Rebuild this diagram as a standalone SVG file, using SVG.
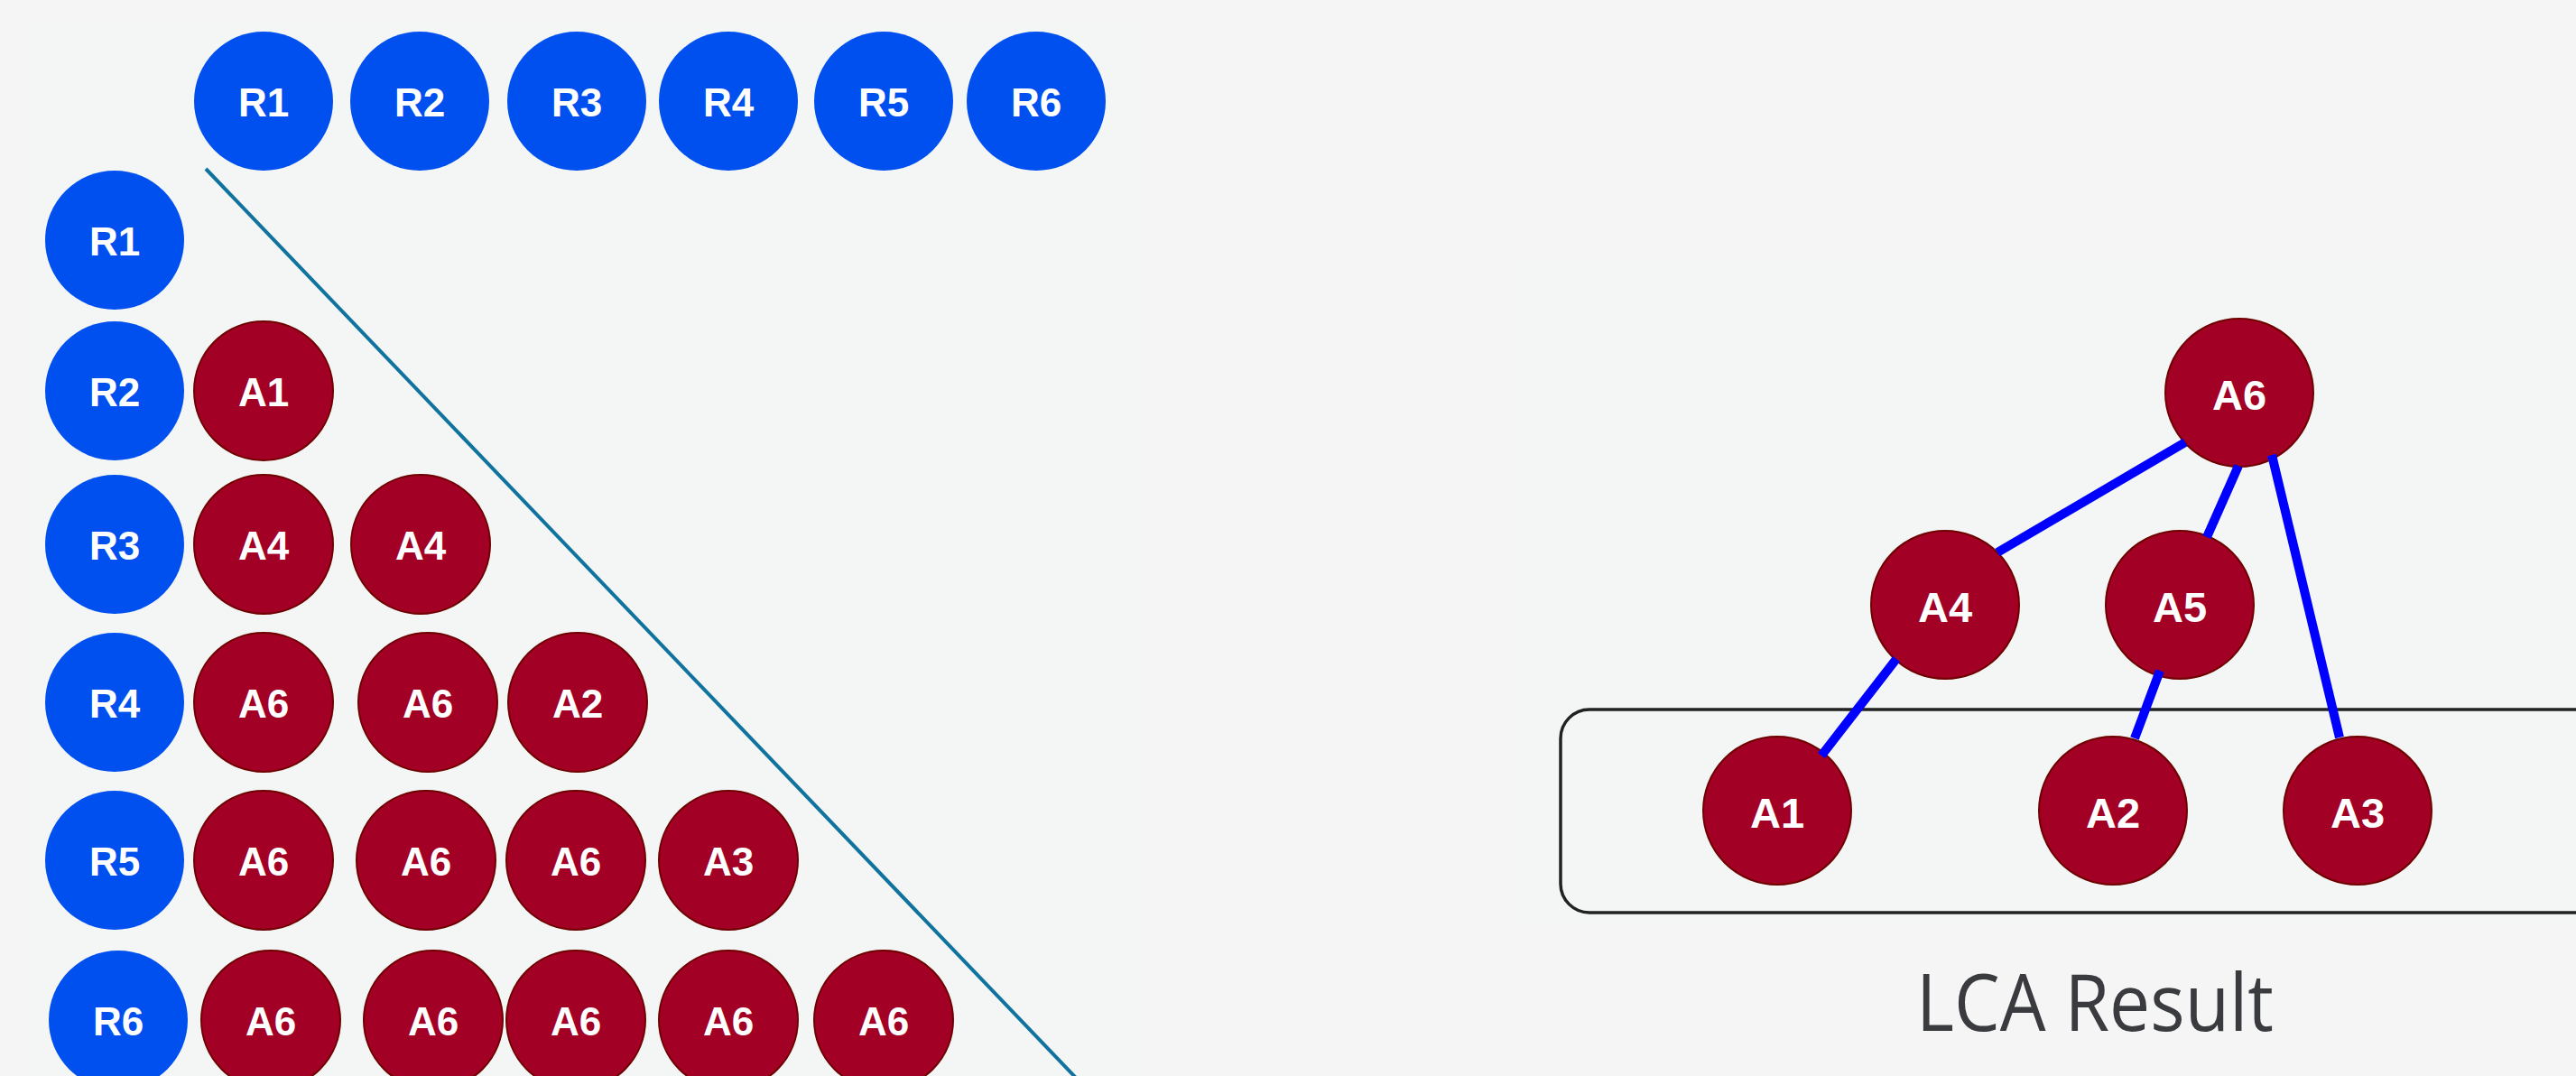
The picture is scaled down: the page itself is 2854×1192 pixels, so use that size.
<svg xmlns="http://www.w3.org/2000/svg" width="2854" height="1192" viewBox="0 0 2854 1192">
<style>
.r{fill:#0050ef;}
.a{fill:#a20025;stroke:#6f0000;stroke-width:2;}
.t{fill:#ffffff;font-family:"Liberation Sans",Arial,sans-serif;font-weight:bold;font-size:44px;text-anchor:middle;}
.t2{fill:#ffffff;font-family:"Liberation Sans",Arial,sans-serif;font-weight:bold;font-size:47px;text-anchor:middle;}
.e{stroke:#0000ff;stroke-width:10;fill:none;}
</style>
<rect x="0" y="0" width="2854" height="1192" fill="#f5f5f5"/>
<rect x="30" y="27" width="1239" height="1165" fill="#f4f6f6"/>
<rect x="1677" y="290" width="1177" height="735" fill="#f4f6f6"/>
<line id="diag" x1="228" y1="187" x2="1192" y2="1194" stroke="#10739e" stroke-width="4"/>
<g id="header">
<g id="h-R1"><circle class="r" cx="292" cy="112" r="77"/><text class="t" x="292" y="129">R1</text></g>
<g id="h-R2"><circle class="r" cx="465" cy="112" r="77"/><text class="t" x="465" y="129">R2</text></g>
<g id="h-R3"><circle class="r" cx="639" cy="112" r="77"/><text class="t" x="639" y="129">R3</text></g>
<g id="h-R4"><circle class="r" cx="807" cy="112" r="77"/><text class="t" x="807" y="129">R4</text></g>
<g id="h-R5"><circle class="r" cx="979" cy="112" r="77"/><text class="t" x="979" y="129">R5</text></g>
<g id="h-R6"><circle class="r" cx="1148" cy="112" r="77"/><text class="t" x="1148" y="129">R6</text></g>
</g>
<g id="rows">
<g id="v-R1"><circle class="r" cx="127" cy="266" r="77"/><text class="t" x="127" y="283">R1</text></g>
<g id="v-R2"><circle class="r" cx="127" cy="433" r="77"/><text class="t" x="127" y="450">R2</text></g>
<g id="c21"><circle class="a" cx="292" cy="433" r="77"/><text class="t" x="292" y="450">A1</text></g>
<g id="v-R3"><circle class="r" cx="127" cy="603" r="77"/><text class="t" x="127" y="620">R3</text></g>
<g id="c31"><circle class="a" cx="292" cy="603" r="77"/><text class="t" x="292" y="620">A4</text></g>
<g id="c32"><circle class="a" cx="466" cy="603" r="77"/><text class="t" x="466" y="620">A4</text></g>
<g id="v-R4"><circle class="r" cx="127" cy="778" r="77"/><text class="t" x="127" y="795">R4</text></g>
<g id="c41"><circle class="a" cx="292" cy="778" r="77"/><text class="t" x="292" y="795">A6</text></g>
<g id="c42"><circle class="a" cx="474" cy="778" r="77"/><text class="t" x="474" y="795">A6</text></g>
<g id="c43"><circle class="a" cx="640" cy="778" r="77"/><text class="t" x="640" y="795">A2</text></g>
<g id="v-R5"><circle class="r" cx="127" cy="953" r="77"/><text class="t" x="127" y="970">R5</text></g>
<g id="c51"><circle class="a" cx="292" cy="953" r="77"/><text class="t" x="292" y="970">A6</text></g>
<g id="c52"><circle class="a" cx="472" cy="953" r="77"/><text class="t" x="472" y="970">A6</text></g>
<g id="c53"><circle class="a" cx="638" cy="953" r="77"/><text class="t" x="638" y="970">A6</text></g>
<g id="c54"><circle class="a" cx="807" cy="953" r="77"/><text class="t" x="807" y="970">A3</text></g>
<g id="v-R6"><circle class="r" cx="131" cy="1130" r="77"/><text class="t" x="131" y="1147">R6</text></g>
<g id="c61"><circle class="a" cx="300" cy="1130" r="77"/><text class="t" x="300" y="1147">A6</text></g>
<g id="c62"><circle class="a" cx="480" cy="1130" r="77"/><text class="t" x="480" y="1147">A6</text></g>
<g id="c63"><circle class="a" cx="638" cy="1130" r="77"/><text class="t" x="638" y="1147">A6</text></g>
<g id="c64"><circle class="a" cx="807" cy="1130" r="77"/><text class="t" x="807" y="1147">A6</text></g>
<g id="c65"><circle class="a" cx="979" cy="1130" r="77"/><text class="t" x="979" y="1147">A6</text></g>
</g>
<rect id="leaf-box" x="1729" y="786" width="1200" height="225" rx="32" ry="32" fill="none" stroke="#222222" stroke-width="3.5"/>
<g id="tree">
<g id="n-A6"><circle class="a" cx="2481" cy="435" r="82"/><text class="t2" x="2481" y="454">A6</text></g>
<g id="n-A4"><circle class="a" cx="2155" cy="670" r="82"/><text class="t2" x="2155" y="689">A4</text></g>
<g id="n-A5"><circle class="a" cx="2415" cy="670" r="82"/><text class="t2" x="2415" y="689">A5</text></g>
<g id="n-A1"><circle class="a" cx="1969" cy="898" r="82"/><text class="t2" x="1969" y="917">A1</text></g>
<g id="n-A2"><circle class="a" cx="2341" cy="898" r="82"/><text class="t2" x="2341" y="917">A2</text></g>
<g id="n-A3"><circle class="a" cx="2612" cy="898" r="82"/><text class="t2" x="2612" y="917">A3</text></g>
</g>
<g id="connectors">
<line class="e" x1="2421" y1="490" x2="2213" y2="612"/>
<line class="e" x1="2480" y1="516" x2="2445" y2="595"/>
<line class="e" x1="2517" y1="504" x2="2592" y2="817"/>
<line class="e" x1="2101" y1="730" x2="2018" y2="837"/>
<line class="e" x1="2393" y1="743" x2="2365" y2="818"/>
</g>
<text id="caption" x="2123" y="1142" font-family="'Open Sans','Noto Sans',sans-serif" font-size="88" fill="#3a3b3f" textLength="396" lengthAdjust="spacingAndGlyphs">LCA Result</text>
</svg>
